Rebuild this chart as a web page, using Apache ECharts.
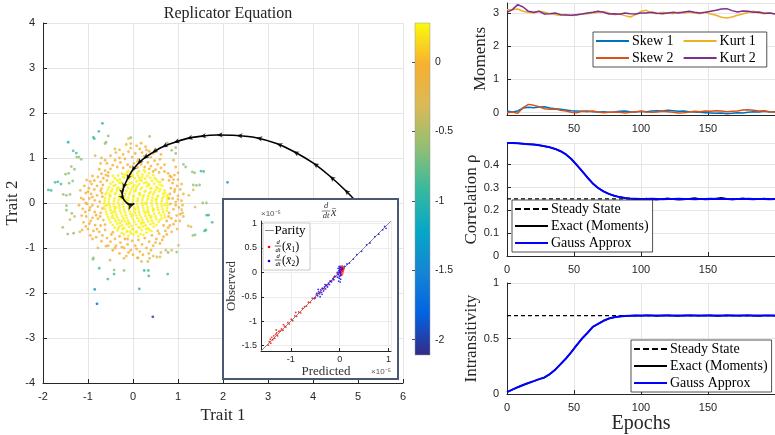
<!DOCTYPE html>
<html>
<head>
<meta charset="utf-8">
<script src="https://cdn.jsdelivr.net/npm/echarts@6/dist/echarts.min.js"></script>
<style>html,body{margin:0;padding:0;background:#fff}#c{width:775px;height:435px}</style>
</head>
<body>
<div id="c"></div>
<script>
// ---------- styling constants ----------
const SERIF = "'Liberation Serif', 'DejaVu Serif', serif";
const SANS = "'Liberation Sans', Arial, sans-serif";
const INK = '#262626';
const GRIDC = '#e5e5e5';

// Parula colormap (low -> high)
const parula = ['#352a87', '#0363e1', '#1485d4', '#06a7c6', '#38b99e', '#92bf73', '#d9ba56', '#f8b030', '#f9fb0e'];
const fitnessMin = -2.11;
const fitnessMax = 0.28;

// ---------- population in trait space, grouped by fitness ----------
const corePts = [
[-0.1,0.71],[0.02,0.74],[0.13,0.7],[0.24,0.73],
[-0.24,0.65],[-0.13,0.68],[-0.03,0.64],[0.09,0.67],[0.21,0.63],[0.36,0.66],
[-0.33,0.61],[-0.22,0.58],[-0.12,0.62],[-0.01,0.59],[0.11,0.61],[0.2,0.57],[0.32,0.6],[0.45,0.62],
[-0.4,0.55],[-0.29,0.52],[-0.19,0.56],[-0.08,0.53],[0.04,0.55],[0.15,0.51],[0.27,0.54],[0.38,0.56],[0.52,0.52],
[-0.45,0.47],[-0.35,0.5],[-0.24,0.46],[-0.13,0.49],[-0.03,0.45],[0.08,0.48],[0.19,0.5],[0.3,0.46],[0.42,0.49],[0.55,0.47],
[-0.5,0.43],[-0.39,0.4],[-0.28,0.44],[-0.18,0.41],[-0.07,0.43],[0.03,0.39],[0.14,0.42],[0.25,0.44],[0.36,0.4],[0.47,0.43],[0.6,0.41],
[-0.53,0.35],[-0.43,0.38],[-0.32,0.34],[-0.22,0.37],[-0.11,0.33],[-0.01,0.36],[0.1,0.38],[0.2,0.34],[0.31,0.37],[0.41,0.33],[0.52,0.36],[0.65,0.38],
[-0.56,0.29],[-0.46,0.31],[-0.36,0.28],[-0.25,0.32],[-0.15,0.27],[-0.04,0.3],[0.06,0.28],[0.17,0.31],[0.28,0.27],[0.39,0.32],[0.5,0.29],[0.61,0.31],[0.7,0.28],
[-0.59,0.23],[-0.48,0.26],[-0.38,0.22],[-0.27,0.25],[-0.17,0.21],[-0.06,0.24],[0.04,0.26],[0.15,0.22],[0.26,0.25],[0.36,0.21],[0.47,0.24],[0.58,0.26],[0.71,0.22],
[-0.61,0.19],[-0.5,0.16],[-0.4,0.2],[-0.29,0.17],[-0.19,0.15],[-0.08,0.19],[0.02,0.16],[0.13,0.2],[0.24,0.17],[0.34,0.15],[0.45,0.19],[0.56,0.16],[0.67,0.2],[0.76,0.17],
[-0.62,0.11],[-0.52,0.14],[-0.41,0.1],[-0.31,0.13],[-0.2,0.09],[-0.1,0.12],[0.01,0.14],[0.11,0.1],[0.22,0.13],[0.33,0.09],[0.43,0.12],[0.54,0.14],[0.65,0.1],[0.77,0.13],
[-0.63,0.05],[-0.53,0.08],[-0.42,0.04],[-0.32,0.07],[-0.21,0.03],[-0.11,0.06],[0.0,0.08],[0.1,0.04],[0.21,0.07],[0.31,0.03],[0.42,0.06],[0.53,0.08],[0.64,0.04],[0.76,0.07],
[-0.64,-0.01],[-0.54,0.02],[-0.43,-0.02],[-0.33,0.01],[-0.22,-0.03],[-0.12,0.0],[-0.01,0.02],[0.09,-0.02],[0.2,0.01],[0.3,-0.03],[0.41,0.0],[0.52,0.02],[0.63,-0.02],[0.75,0.01],
[-0.63,-0.07],[-0.52,-0.04],[-0.42,-0.08],[-0.31,-0.05],[-0.21,-0.09],[-0.1,-0.06],[0.0,-0.04],[0.11,-0.08],[0.21,-0.05],[0.32,-0.09],[0.42,-0.06],[0.53,-0.04],[0.64,-0.08],[0.77,-0.05],
[-0.62,-0.13],[-0.51,-0.1],[-0.41,-0.14],[-0.3,-0.11],[-0.2,-0.15],[-0.09,-0.12],[0.02,-0.1],[0.12,-0.14],[0.23,-0.11],[0.33,-0.15],[0.44,-0.12],[0.55,-0.1],[0.66,-0.14],[0.76,-0.11],
[-0.6,-0.19],[-0.5,-0.16],[-0.39,-0.2],[-0.29,-0.17],[-0.18,-0.21],[-0.08,-0.18],[0.03,-0.16],[0.13,-0.2],[0.24,-0.17],[0.35,-0.21],[0.45,-0.18],[0.56,-0.16],[0.67,-0.2],[0.75,-0.17],
[-0.58,-0.25],[-0.48,-0.22],[-0.37,-0.26],[-0.27,-0.23],[-0.16,-0.27],[-0.06,-0.24],[0.05,-0.22],[0.15,-0.26],[0.26,-0.23],[0.36,-0.27],[0.47,-0.24],[0.58,-0.22],[0.7,-0.26],
[-0.56,-0.31],[-0.45,-0.28],[-0.35,-0.32],[-0.24,-0.29],[-0.14,-0.33],[-0.03,-0.3],[0.07,-0.28],[0.18,-0.32],[0.28,-0.29],[0.39,-0.33],[0.5,-0.3],[0.62,-0.28],[0.71,-0.32],
[-0.53,-0.37],[-0.42,-0.34],[-0.32,-0.38],[-0.21,-0.35],[-0.11,-0.39],[0.0,-0.36],[0.1,-0.34],[0.21,-0.38],[0.31,-0.35],[0.42,-0.39],[0.52,-0.36],[0.64,-0.34],
[-0.5,-0.43],[-0.39,-0.4],[-0.29,-0.44],[-0.18,-0.41],[-0.08,-0.45],[0.03,-0.42],[0.13,-0.4],[0.24,-0.44],[0.34,-0.41],[0.45,-0.45],[0.57,-0.42],
[-0.45,-0.49],[-0.35,-0.46],[-0.24,-0.5],[-0.14,-0.47],[-0.03,-0.51],[0.07,-0.48],[0.18,-0.46],[0.28,-0.5],[0.39,-0.47],[0.52,-0.49],
[-0.41,-0.55],[-0.3,-0.52],[-0.2,-0.56],[-0.09,-0.53],[0.01,-0.57],[0.12,-0.54],[0.22,-0.52],[0.33,-0.56],[0.46,-0.53],
[-0.34,-0.61],[-0.23,-0.58],[-0.13,-0.62],[-0.02,-0.59],[0.08,-0.63],[0.19,-0.6],[0.29,-0.58],[0.41,-0.62],
[-0.25,-0.67],[-0.14,-0.64],[-0.04,-0.68],[0.07,-0.65],[0.17,-0.69],[0.3,-0.66],
[-0.1,-0.73],[0.01,-0.7],[0.12,-0.74],[0.23,-0.71],
[-0.45,0.6],[-0.3,0.45],[-0.05,0.62],[0.27,0.69],[0.48,0.55],[0.6,0.47],[-0.52,0.2],[-0.35,0.32],[-0.12,0.4],[0.07,0.33],
[0.34,0.42],[0.55,0.33],[0.68,0.14],[-0.58,-0.05],[-0.38,-0.1],[-0.16,0.07],[0.05,-0.13],[0.26,-0.01],[0.46,-0.14],[0.7,-0.05],
[-0.47,-0.32],[-0.25,-0.4],[-0.02,-0.26],[0.2,-0.43],[0.41,-0.3],[0.6,-0.38],[-0.33,-0.56],[-0.07,-0.64],[0.15,-0.55],[0.36,-0.6],
[-0.18,0.63],[0.14,0.56],[0.39,0.24],[-0.26,0.1],[0.16,0.18],[-0.44,-0.2],[0.3,-0.2],[-0.1,-0.45],[0.5,0.08],[-0.2,-0.7]
];

const ringPts = [
[-0.15,1.3],[-0.05,1.22],[0.08,1.27],[0.18,1.33],[0.28,1.25],[0.36,1.15],[0.2,1.12],[0.05,1.1],[-0.1,1.14],[-0.22,1.08],
[-0.3,1.0],[-0.18,0.98],[-0.02,1.02],[0.12,0.97],[0.25,1.04],[0.4,1.02],[0.48,0.94],[0.33,0.9],[0.18,0.86],[0.02,0.88],
[-0.12,0.85],[-0.28,0.9],[-0.4,0.95],[-0.45,0.84],[-0.35,0.8],[-0.22,0.78],[-0.06,0.8],[0.1,0.79],[0.26,0.8],[0.4,0.82],
[0.55,0.86],[0.62,0.78],[0.5,0.74],[0.36,0.76],[-0.5,0.76],[-0.58,0.88],[0.6,0.97],[0.7,0.7],[0.52,1.18],[0.62,1.08],
[-0.62,0.72],[-0.7,0.65],[-0.55,0.68],[-0.78,0.58],[-0.66,0.55],[-0.86,0.5],[-1.03,0.51],[-0.72,0.47],[-0.92,0.42],[-0.8,0.38],
[-0.67,0.4],[-0.98,0.33],[-0.86,0.3],[-0.72,0.27],[-1.05,0.22],[-0.93,0.2],[-0.8,0.17],[-0.68,0.14],[-1.1,0.08],[-0.97,0.1],
[-0.85,0.06],[-0.74,0.03],[-1.02,-0.02],[-0.9,-0.05],[-0.78,-0.08],[-0.68,-0.12],[-1.12,-0.13],[-0.97,-0.16],[-0.85,-0.2],[-0.72,-0.22],
[-1.14,-0.28],[-1.04,-0.3],[-0.9,-0.33],[-0.78,-0.35],[-0.66,-0.38],[-1.1,-0.43],[-0.97,-0.46],[-0.84,-0.49],[-0.72,-0.5],[-1.13,-0.6],
[-1.0,-0.58],[-0.88,-0.62],[-0.75,-0.64],[-0.62,-0.6],[-0.95,-0.72],[-0.82,-0.76],[-0.68,-0.72],[-1.15,0.11],[-1.2,-0.05],[-0.6,0.62],
[-0.58,-0.78],[-0.48,-0.7],[-0.5,-0.86],[-0.4,-0.8],[-0.38,-0.95],[-0.3,-0.74],[-0.28,-0.88],[-0.2,-1.0],[-0.18,-0.8],[-0.12,-0.92],
[-0.05,-1.05],[-0.02,-0.84],[0.05,-0.95],[0.12,-0.82],[0.15,-1.08],[0.2,-0.92],[0.26,-0.78],[0.3,-1.0],[0.36,-0.86],[0.42,-0.72],
[0.45,-0.95],[0.52,-0.8],[0.58,-0.68],[0.6,-0.9],[0.68,-0.75],[-0.6,-0.96],[-0.45,-1.05],[-0.3,-1.12],[0.0,-1.15],[0.35,-1.12],
[0.1,-1.22],[-0.15,-1.18],
[0.78,0.66],[0.85,0.58],[0.92,0.62],[0.8,0.5],[1.0,0.52],[0.88,0.44],[0.98,0.38],[0.84,0.33],[1.05,0.3],[0.92,0.25],
[0.82,0.2],[1.0,0.16],[0.88,0.1],[1.08,0.05],[0.95,0.02],[0.83,-0.02],[1.02,-0.1],[0.9,-0.14],[0.8,-0.22],[1.1,-0.22],
[0.97,-0.28],[0.85,-0.34],[0.75,-0.4],[1.04,-0.4],[0.9,-0.47],[0.78,-0.55],[0.98,-0.58],[0.86,-0.64],[0.72,-0.62],[1.12,0.2],
[1.1,-0.05],[1.0,0.67],[0.95,0.8],
[-0.75,0.75],[-0.9,0.6],[-0.95,0.48],[-1.08,0.38],[-1.0,0.25],[-0.9,0.13],[-1.05,0.0],[-0.95,-0.1],[-1.06,-0.2],[-0.82,-0.27],
[-0.94,-0.4],[-1.05,-0.52],[-0.8,-0.58],[-0.9,-0.8],[-0.7,-0.85],[-0.55,-0.95],[-0.4,-1.0],[-0.25,-0.98],[-0.1,-1.1],[0.08,-1.02],
[0.22,-1.15],[0.4,-1.05],[0.5,-0.88],[0.65,-0.82],[0.75,-0.7],[0.82,-0.5],[0.95,-0.4],[1.05,-0.25],[0.95,-0.05],[1.0,0.08],
[0.93,0.3],[1.08,0.42],[0.9,0.52],[0.82,0.6],[0.7,0.85],[0.45,1.1],[0.3,1.18],[-0.05,1.32],[-0.3,1.18],[-0.5,1.05],
[-0.62,0.95],[-0.72,0.88],[-0.38,1.12],[0.15,1.2],[0.58,0.68],[-0.7,0.32],[-0.73,-0.3],[-0.69,0.22],[0.8,0.1],[0.79,-0.3],
[-0.62,-0.48],[-0.58,0.5],[0.66,0.52],[0.68,-0.5],[0.55,-0.62],[-0.45,-0.65],[-0.55,0.6],[0.45,0.7],[-0.12,-0.8],[0.1,0.92]
];

const olivePts = [
[-1.18,-0.64],[-1.4,-0.37],[-1.3,-0.3],[-0.78,-1.0],[-0.51,-1.27],[-0.2,-1.23],[0.11,-1.22],[0.19,-1.3],[0.33,-1.3],[0.37,-1.23],
[0.53,-1.2],[0.6,-1.2],[0.62,-1.1],[0.73,-1.05],[0.86,-1.05],[1.01,-0.94],[1.29,-0.53],[1.23,-0.51],[1.08,-0.15],[1.12,-0.3],
[1.38,-0.09],[1.24,0.17],[1.34,0.29],[-0.84,1.05],[-0.1,1.43],[0.45,-1.18],[-1.17,0.28],[-0.4,1.2],[-0.7,1.0],[0.9,0.95]
];

const greenPts = [
[-0.55,1.49],[-0.6,1.35],[-1.25,1.02],[-1.2,1.02],[-0.05,1.45],[0.37,1.48],[0.95,1.23],[0.95,1.1],[0.76,1.33],[0.86,1.17],
[1.12,0.86],[1.17,0.8],[1.37,0.67],[1.32,0.69],[1.41,0.39],[1.34,0.4],[1.48,0.4],[1.55,0.0],[1.63,0.0],[-1.5,0.64],
[-1.37,0.81],[-1.43,0.66],[-1.3,0.75],[-1.34,0.49],[-1.42,0.44],[-1.48,0.17],[-1.4,0.19],[-1.55,0.19],[-1.48,-0.06],[-1.48,-0.16],
[-1.36,-0.23],[-1.56,-0.54],[-1.45,-0.69],[-1.32,-0.67],[-0.89,-1.25],[-0.88,-1.22],[-0.42,-1.49],[-0.2,-1.5],[0.78,-1.1],[0.97,-1.09],
[1.33,-0.72],[1.38,-0.71],[-1.15,0.97],[-0.62,1.32]
];

const tealPts = [
[-0.88,1.46],[-0.86,1.43],[-0.76,1.59],[-1.26,1.11],[-1.33,1.16],[-1.73,0.46],[-1.67,0.47],[-1.6,0.42],[-1.88,0.29],[-1.82,0.28],
[1.51,0.71],[1.57,0.7],[1.64,-0.27],[1.68,-0.27],[1.59,-0.62],[1.62,-0.6],[1.76,-0.43],[-0.75,-1.45],[-0.56,-1.69],[-0.42,-1.58],
[0.25,-1.5],[0.34,-1.5],[0.35,-1.62],[0.77,-1.58]
];

const cyanPts = [[-0.68,1.77],[-1.44,1.35],[0.14,-1.91]];

// isolated low-fitness individuals: [trait 1, trait 2, fitness]
const farPts = [[2.1,0.46,-1.35],[-0.85,-1.92,-1.35],[-0.8,-2.24,-1.78],[0.44,-2.53,-2.08]];

const bandFitness = { core: 0.24, ring: -0.02, olive: -0.3, green: -0.62, teal: -0.9, cyan: -1.08 };

// mean-trait trajectory (start -> end)
const trajectory = [
[5.3,-0.5],[5.1,-0.2],[4.93,0.06],[4.7,0.3],[4.37,0.6],[4.0,0.89],[3.56,1.15],[3.19,1.32],[2.74,1.45],[2.3,1.5],
[1.86,1.51],[1.49,1.48],[1.19,1.43],[0.9,1.34],[0.64,1.24],[0.42,1.11],[0.23,0.98],[0.1,0.86],[-0.03,0.7],[-0.14,0.5],
[-0.22,0.31],[-0.24,0.18],[-0.2,0.07],[-0.12,-0.01],[-0.04,-0.04],[0.03,-0.01]
];
const arrowIdx = [3,4,5,6,7,8,9,10,11,12,13,14,15,16,17,18,19,20,21,22];

// ---------- predicted vs observed mean-trait velocity (x 1e-5) ----------
const dMean1 = [
[-1.46,-1.49],[-1.44,-1.42],[-1.42,-1.37],[-1.41,-1.45],[-1.39,-1.33],[-1.37,-1.38],[-1.35,-1.3],[-1.33,-1.35],[-1.31,-1.27],[-1.29,-1.24],
[-1.27,-1.3],[-1.25,-1.21],[-1.22,-1.2],[-1.19,-1.16],[-1.16,-1.19],[-1.13,-1.1],[-1.1,-1.12],[-1.06,-1.03],[-1.03,-1.06],[-0.99,-0.96],
[-0.96,-0.99],[-0.92,-0.89],[-0.88,-0.9],[-0.84,-0.81],[-0.8,-0.83],[-0.76,-0.74],[-0.72,-0.7],[-0.68,-0.69],[-0.64,-0.61],[-0.6,-0.62],
[-0.56,-0.53],[-0.52,-0.54],[-0.48,-0.46],[-0.44,-0.43],[-0.4,-0.41],[-0.36,-0.33],[-0.32,-0.34],[-0.28,-0.26],[-0.24,-0.25],[-0.2,-0.18],
[-0.16,-0.17],[-0.12,-0.1],[-0.08,-0.09],[-0.05,-0.03],[-1.3,-1.18],[-1.15,-1.07],[-0.9,-0.82],
[0.01,0.02],[0.02,0.06],[0.03,0.1],[0.04,0.0],[0.05,0.08],[0.06,0.03],[0.07,0.11],[0.03,-0.04],[0.05,0.13],[0.02,-0.01],
[0.08,0.05],[0.04,0.07],[0.06,-0.03],[0.03,0.04],[0.07,0.01],[0.05,0.09],[0.02,0.12],[0.06,0.06],[0.04,-0.06],[0.09,0.08],
[0.01,0.05],[0.05,0.02]
];
const dMean2 = [
[-0.02,-0.18],[-0.01,-0.12],[0.0,-0.08],[-0.03,-0.05],[0.01,0.0],[-0.02,0.03],[0.0,0.06],[0.02,0.1],[-0.01,0.12],[0.01,-0.03],
[-0.04,-0.1],[0.02,-0.14],[0.0,0.02],[-0.03,0.08],[0.03,0.05],[0.01,-0.2],[-0.02,-0.01],[0.0,0.09],[-0.05,0.0],[0.02,-0.06],
[-0.45,-0.48],[-0.43,-0.4],[-0.41,-0.44],[-0.39,-0.36],[-0.37,-0.41],[-0.35,-0.33],[-0.33,-0.38],[-0.31,-0.3],[-0.29,-0.34],[-0.27,-0.27],
[-0.25,-0.3],[-0.23,-0.22],[-0.21,-0.25],[-0.19,-0.18],[-0.17,-0.2],[-0.14,-0.13],[-0.12,-0.15],[-0.1,-0.08],[-0.4,-0.5],[-0.47,-0.43],
[-0.5,-0.52],[-0.44,-0.35],[-0.36,-0.45],[-0.3,-0.25],
[0.15,0.17],[0.2,0.19],[0.28,0.27],[0.35,0.36],[0.45,0.43],[0.55,0.56],[0.62,0.6],[0.72,0.73],[0.8,0.78],[0.88,0.87],
[0.92,0.94],[0.95,0.9],[0.1,0.12],[0.06,0.08]
];
const parityEnds = [-1.61, 1.05];

// ---------- time series over epochs ----------
const epochs = [0,4,8,12,16,20,24,28,32,36,40,44,48,52,56,60,64,68,72,76,80,84,88,92,96,100,104,108,112,116,120,124,128,132,136,140,144,148,152,156,160,164,168,172,176,180,184,188,192,196,200];

const skew1 = [0.05,0.02,0.05,0.14,0.16,0.15,0.17,0.18,0.14,0.12,0.1,0.08,0.06,0.05,0.04,0.05,0.03,0.02,0.03,0.01,0.02,0.04,0.05,0.03,0.02,0.04,0.03,0.05,0.06,0.05,0.07,0.06,0.04,0.05,0.03,0.02,0.01,0.0,-0.01,-0.02,-0.01,-0.03,-0.02,0.0,-0.01,0.01,0.03,0.02,0.04,0.02,0.03];
const skew2 = [0.0,0.02,-0.02,0.15,0.25,0.22,0.18,0.12,0.1,0.11,0.07,0.05,0.01,0.0,0.04,0.03,0.05,0.02,0.0,0.01,0.02,0.01,-0.01,0.01,0.03,0.04,0.02,0.01,0.02,0.04,0.03,0.01,-0.01,0.0,0.02,0.04,0.03,0.05,0.04,0.06,0.05,0.03,0.04,0.05,0.08,0.09,0.07,0.05,0.06,0.03,0.02];
const kurt1 = [3.1,3.1,3.12,3.05,3.02,3.0,3.05,3.02,2.98,2.95,2.93,2.95,2.92,2.94,2.97,2.98,3.0,3.02,3.04,3.0,2.95,2.97,2.92,2.88,2.95,3.05,3.08,3.0,2.98,3.02,3.0,2.98,3.02,3.0,3.03,3.0,2.98,3.02,2.97,2.93,2.87,2.85,2.88,2.93,2.97,3.02,3.05,3.0,2.98,3.0,2.98];
const kurt2 = [3.02,3.1,3.25,3.18,3.05,3.02,3.05,2.97,2.98,3.0,2.95,2.94,2.93,2.95,2.97,3.0,3.02,3.05,3.02,2.97,2.98,2.96,3.0,2.98,2.97,3.0,3.0,3.02,2.99,2.98,3.0,3.02,3.0,3.03,3.05,3.02,3.0,3.02,3.05,3.08,3.12,3.13,3.07,3.03,3.06,3.05,3.02,3.03,2.99,3.0,2.97];

const corrSteady = 0.25;
const corrExact = [0.496,0.495,0.494,0.492,0.49,0.488,0.485,0.481,0.476,0.469,0.459,0.445,0.425,0.399,0.372,0.344,0.318,0.298,0.283,0.272,0.264,0.258,0.254,0.251,0.249,0.247,0.252,0.248,0.246,0.25,0.253,0.249,0.246,0.248,0.251,0.254,0.25,0.247,0.249,0.252,0.255,0.251,0.248,0.25,0.253,0.249,0.247,0.25,0.252,0.249,0.25];
const corrGauss = [0.496,0.495,0.494,0.492,0.49,0.488,0.485,0.481,0.476,0.469,0.459,0.445,0.425,0.399,0.372,0.344,0.318,0.298,0.283,0.272,0.264,0.258,0.254,0.252,0.251,0.25,0.25,0.251,0.25,0.249,0.25,0.25,0.251,0.25,0.25,0.249,0.25,0.25,0.251,0.25,0.25,0.25,0.249,0.25,0.25,0.251,0.25,0.25,0.25,0.249,0.25];

const intrSteady = 0.707;
const intrExact = [0.018,0.04,0.062,0.082,0.1,0.117,0.135,0.15,0.18,0.22,0.27,0.32,0.378,0.44,0.5,0.55,0.605,0.632,0.66,0.68,0.692,0.699,0.704,0.706,0.707,0.705,0.709,0.707,0.704,0.708,0.71,0.706,0.703,0.707,0.71,0.708,0.705,0.707,0.709,0.704,0.706,0.71,0.708,0.705,0.707,0.709,0.706,0.704,0.708,0.707,0.705];
const intrGauss = [0.018,0.04,0.062,0.082,0.1,0.117,0.135,0.15,0.18,0.22,0.27,0.32,0.378,0.44,0.5,0.55,0.605,0.632,0.66,0.68,0.692,0.699,0.704,0.706,0.707,0.707,0.707,0.707,0.707,0.707,0.707,0.707,0.707,0.707,0.707,0.707,0.707,0.707,0.707,0.707,0.707,0.707,0.707,0.707,0.707,0.707,0.707,0.707,0.707,0.707,0.707];

// ---------- assemble series data ----------
const cloud = [];
[[corePts, bandFitness.core], [ringPts, bandFitness.ring], [olivePts, bandFitness.olive],
 [greenPts, bandFitness.green], [tealPts, bandFitness.teal], [cyanPts, bandFitness.cyan]]
  .forEach(([pts, f]) => pts.forEach(p => cloud.push([p[0], p[1], f])));
farPts.forEach(p => cloud.push(p));

function heading(i) {
  const a = trajectory[Math.max(i - 1, 0)], b = trajectory[Math.min(i + 1, trajectory.length - 1)];
  return Math.atan2(b[1] - a[1], b[0] - a[0]) * 180 / Math.PI - 90;
}
const arrowData = arrowIdx.map(i => ({ value: trajectory[i], symbolRotate: heading(i) }));
const last = trajectory.length - 1;
arrowData.push({ value: trajectory[last], symbolRotate: heading(last), symbolSize: [6, 8] });

const pairs = ys => epochs.map((e, i) => [e, ys[i]]);
const flat = v => [[epochs[0], v], [epochs[epochs.length - 1], v]];

const cbStops = parula.map((c, i) => ({ offset: 1 - i / (parula.length - 1), color: c })).reverse();

// ---------- axis helpers ----------
const tickLabel = { color: INK, fontFamily: SANS, fontSize: 11 };
function valAxis(extra) {
  return Object.assign({
    type: 'value',
    axisLine: { show: true, onZero: false, lineStyle: { color: INK, width: 1 } },
    axisTick: { show: true, inside: true, length: 4, lineStyle: { color: INK } },
    splitLine: { show: true, lineStyle: { color: GRIDC, width: 1 } },
    axisLabel: Object.assign({}, tickLabel),
    nameLocation: 'middle',
    nameTextStyle: { fontFamily: SERIF, fontSize: 17, color: INK }
  }, extra);
}

// fraction d/dt drawn with text pieces
function frac(cx, cy, size, color) {
  const f = `italic ${size}px ${SERIF}`;
  return [
    { type: 'text', x: cx, y: cy - 0.5, z: 21, style: { text: 'd', font: f, fill: color, align: 'center', verticalAlign: 'bottom', textAlign: 'center', textVerticalAlign: 'bottom' } },
    { type: 'line', z: 21, shape: { x1: cx - size * 0.5, y1: cy, x2: cx + size * 0.5, y2: cy }, style: { stroke: color, lineWidth: 0.6 } },
    { type: 'text', x: cx, y: cy + 0.5, z: 21, style: { text: 'dt', font: f, fill: color, align: 'center', verticalAlign: 'top', textAlign: 'center', textVerticalAlign: 'top' } }
  ];
}
function txt(x, y, text, font, align, extra) {
  return { type: 'text', x: x, y: y, z: 21, style: Object.assign({ text: text, font: font, fill: '#000', align: align || 'left', verticalAlign: 'middle', textAlign: align || 'left', textVerticalAlign: 'middle' }, extra || {}) };
}
const meanRich = {
  i: { fontFamily: SERIF, fontStyle: 'italic', fontSize: 12, color: '#000' },
  s: { fontFamily: SERIF, fontSize: 8, color: '#000', verticalAlign: 'bottom', padding: [6, 0, 0, 0] },
  p: { fontFamily: SERIF, fontSize: 12, color: '#000' }
};

const graphics = [
  // inset frame
  { type: 'rect', z: 10, shape: { x: 223, y: 199, width: 175, height: 180 }, style: { fill: '#fff', stroke: '#4b5872', lineWidth: 2 } },
  // inset title
  ...frac(326, 211, 8.5, '#333'),
  txt(331, 212.5, 'x\u0304', `italic 12px ${SERIF}`, 'left', { fill: '#333' }),
  // exponent markers
  txt(261, 214, '\u00d710\u207b\u2075', `8px ${SANS}`, 'left', { fill: '#555' }),
  txt(391, 372, '\u00d710\u207b\u2075', `8px ${SANS}`, 'right', { fill: '#555' }),
  // inset legend
  { type: 'rect', z: 20, shape: { x: 263, y: 223, width: 47, height: 47 }, style: { fill: '#fff', stroke: '#c8c8c8', lineWidth: 1 } },
  { type: 'line', z: 21, shape: { x1: 265, y1: 230.5, x2: 274, y2: 230.5 }, style: { stroke: '#888', lineWidth: 1 } },
  txt(274.5, 231, 'Parity', `13px ${SERIF}`),
  { type: 'circle', z: 21, shape: { cx: 269, cy: 247, r: 1.3 }, style: { fill: '#ff0000' } },
  ...frac(278, 246, 6.5, '#000'),
  { type: 'text', x: 282, y: 247, z: 21, style: { text: '{p|(}{i|x\u0304}{s|1}{p|)}', rich: meanRich, align: 'left', verticalAlign: 'middle', textAlign: 'left', textVerticalAlign: 'middle' } },
  { type: 'circle', z: 21, shape: { cx: 269, cy: 261, r: 1.3 }, style: { fill: '#0000ff' } },
  ...frac(278, 260, 6.5, '#000'),
  { type: 'text', x: 282, y: 261, z: 21, style: { text: '{p|(}{i|x\u0304}{s|2}{p|)}', rich: meanRich, align: 'left', verticalAlign: 'middle', textAlign: 'left', textVerticalAlign: 'middle' } }
];

// legend line icons (solid and dashed strokes)
const SOLID = 'path://M0,0H33V2H0Z';
const DASHED = 'path://M0,0H6V2H0Z M9,0H15V2H9Z M18,0H24V2H18Z M27,0H33V2H27Z';
const legendBase = {
  orient: 'vertical',
  backgroundColor: '#fff',
  borderColor: INK,
  borderWidth: 0.8,
  borderRadius: 0,
  itemWidth: 33,
  itemHeight: 12,
  itemGap: 3,
  symbolKeepAspect: true,
  padding: [2, 4, 2, 3],
  textStyle: { fontFamily: SERIF, fontSize: 14, color: '#000', padding: [0, 0, 0, -2] },
  selectedMode: false,
  z: 6
};
const fitLegend = [
  { name: 'Steady State', icon: DASHED },
  { name: 'Exact (Moments)', icon: SOLID },
  { name: 'Gauss Approx', icon: SOLID }
];

const option = {
  animation: false,
  backgroundColor: '#fff',
  title: {
    text: 'Replicator Equation', left: 223, top: 1, textAlign: 'center',
    textStyle: { fontFamily: SERIF, fontSize: 16, fontWeight: 'normal', color: '#222' }
  },
  grid: [
    { left: 43, top: 23, width: 360, height: 360 },
    { left: 415, top: 23, width: 15, height: 332, show: true, borderColor: '#9a9a9a', borderWidth: 0.5,
      backgroundColor: new echarts.graphic.LinearGradient(0, 0, 0, 1, cbStops) },
    { left: 261, top: 221, width: 130, height: 130 },
    { left: 507, top: 3, width: 271, height: 112 },
    { left: 507, top: 143, width: 271, height: 113 },
    { left: 507, top: 283, width: 271, height: 112 }
  ],
  xAxis: [
    valAxis({ gridIndex: 0, min: -2, max: 6, interval: 1, name: 'Trait 1', nameGap: 16 }),
    { type: 'value', gridIndex: 1, min: 0, max: 1, show: false },
    valAxis({ gridIndex: 2, min: parityEnds[0], max: parityEnds[1], splitNumber: 2, z: 12,
      axisLabel: Object.assign({}, tickLabel, { fontSize: 9, margin: 4, showMinLabel: false, showMaxLabel: false }),
      axisTick: { show: true, inside: true, length: 3, lineStyle: { color: INK } },
      splitLine: { show: true, lineStyle: { color: '#ececec' } },
      name: 'Predicted', nameGap: 11, nameTextStyle: { fontFamily: SERIF, fontSize: 13, color: '#333' } }),
    valAxis({ gridIndex: 3, min: 0, max: 200, interval: 50,
      axisLabel: Object.assign({}, tickLabel, { showMaxLabel: false, formatter: v => (v === 0 ? '' : String(v)) }) }),
    valAxis({ gridIndex: 4, min: 0, max: 200, interval: 50, axisLabel: Object.assign({}, tickLabel, { showMaxLabel: false }) }),
    valAxis({ gridIndex: 5, min: 0, max: 200, interval: 50, axisLabel: Object.assign({}, tickLabel, { showMaxLabel: false }),
      name: 'Epochs', nameGap: 15, nameTextStyle: { fontFamily: SERIF, fontSize: 20, color: INK } })
  ],
  yAxis: [
    valAxis({ gridIndex: 0, min: -4, max: 4, interval: 1, name: 'Trait 2', nameGap: 17 }),
    { type: 'value', gridIndex: 1, position: 'right', min: fitnessMin, max: fitnessMax, splitNumber: 5,
      axisLine: { show: false }, splitLine: { show: false },
      axisTick: { show: true, inside: true, length: 3, lineStyle: { color: '#555' } },
      axisLabel: Object.assign({}, tickLabel, { fontSize: 10.5, margin: 5, showMinLabel: false, showMaxLabel: false }) },
    valAxis({ gridIndex: 2, min: parityEnds[0], max: parityEnds[1], splitNumber: 5, z: 12,
      axisLabel: Object.assign({}, tickLabel, { fontSize: 9, margin: 4, showMinLabel: false, showMaxLabel: false }),
      axisTick: { show: true, inside: true, length: 3, lineStyle: { color: INK } },
      splitLine: { show: true, lineStyle: { color: '#ececec' } },
      name: 'Observed', nameGap: 20, nameTextStyle: { fontFamily: SERIF, fontSize: 13, color: '#333' } }),
    valAxis({ gridIndex: 3, min: -0.07, max: 3.3, splitNumber: 4, name: 'Moments', nameGap: 16,
      axisLabel: Object.assign({}, tickLabel, { showMinLabel: false, showMaxLabel: false }) }),
    valAxis({ gridIndex: 4, min: 0, max: 0.495, splitNumber: 5, name: 'Correlation \u03c1', nameGap: 16,
      axisLabel: Object.assign({}, tickLabel, { showMaxLabel: false }) }),
    valAxis({ gridIndex: 5, min: 0, max: 1, interval: 0.5, name: 'Intransitivity', nameGap: 16 })
  ],
  visualMap: {
    type: 'continuous', show: false, seriesIndex: 0, dimension: 2,
    min: fitnessMin, max: fitnessMax, inRange: { color: parula }
  },
  legend: [
    Object.assign({}, legendBase, {
      data: ['Skew 1', 'Skew 2', 'Kurt 1', 'Kurt 2'].map(n => ({ name: n, icon: SOLID })),
      formatter: n => n + '\u2002',
      left: 593, top: 32, height: 34, itemGap: 3 }),
    Object.assign({}, legendBase, { data: fitLegend, left: 512, top: 200 }),
    Object.assign({}, legendBase, { data: fitLegend, left: 631, top: 340 })
  ],
  graphic: { elements: graphics },
  series: [
    { type: 'scatter', name: 'population', xAxisIndex: 0, yAxisIndex: 0, data: cloud, symbolSize: 2.8, z: 2 },
    { type: 'line', name: 'mean trait', xAxisIndex: 0, yAxisIndex: 0, data: trajectory, symbol: 'none', smooth: 0.3,
      lineStyle: { color: '#000', width: 1.6 }, z: 3 },
    { type: 'scatter', name: 'direction', xAxisIndex: 0, yAxisIndex: 0, data: arrowData, symbol: 'arrow', symbolSize: [4, 6],
      itemStyle: { color: '#000' }, z: 3 },
    { type: 'line', name: 'Parity', xAxisIndex: 2, yAxisIndex: 2, data: [[parityEnds[0], parityEnds[0]], [parityEnds[1], parityEnds[1]]],
      symbol: 'none', lineStyle: { color: '#8c8c8c', width: 1 }, z: 15 },
    { type: 'scatter', name: 'dmean1', xAxisIndex: 2, yAxisIndex: 2, data: dMean1, symbolSize: 1.8, itemStyle: { color: '#ff0000' }, z: 16 },
    { type: 'scatter', name: 'dmean2', xAxisIndex: 2, yAxisIndex: 2, data: dMean2, symbolSize: 1.8, itemStyle: { color: '#0000ff' }, z: 16 },
    { type: 'line', name: 'Skew 1', xAxisIndex: 3, yAxisIndex: 3, data: pairs(skew1), symbol: 'none', lineStyle: { color: '#0072bd', width: 1.5 }, itemStyle: { color: '#0072bd' } },
    { type: 'line', name: 'Skew 2', xAxisIndex: 3, yAxisIndex: 3, data: pairs(skew2), symbol: 'none', lineStyle: { color: '#d95319', width: 1.5 }, itemStyle: { color: '#d95319' } },
    { type: 'line', name: 'Kurt 1', xAxisIndex: 3, yAxisIndex: 3, data: pairs(kurt1), symbol: 'none', lineStyle: { color: '#edb120', width: 1.5 }, itemStyle: { color: '#edb120' } },
    { type: 'line', name: 'Kurt 2', xAxisIndex: 3, yAxisIndex: 3, data: pairs(kurt2), symbol: 'none', lineStyle: { color: '#7e2f8e', width: 1.5 }, itemStyle: { color: '#7e2f8e' } },
    { type: 'line', name: 'Steady State', xAxisIndex: 4, yAxisIndex: 4, data: flat(corrSteady), symbol: 'none', lineStyle: { color: '#000', width: 1.2, type: [4, 3] }, itemStyle: { color: '#000' } },
    { type: 'line', name: 'Exact (Moments)', xAxisIndex: 4, yAxisIndex: 4, data: pairs(corrExact), symbol: 'none', lineStyle: { color: '#000', width: 1.5 }, itemStyle: { color: '#000' } },
    { type: 'line', name: 'Gauss Approx', xAxisIndex: 4, yAxisIndex: 4, data: pairs(corrGauss), symbol: 'none', lineStyle: { color: '#0000ff', width: 2 }, itemStyle: { color: '#0000ff' } },
    { type: 'line', name: 'Steady State', xAxisIndex: 5, yAxisIndex: 5, data: flat(intrSteady), symbol: 'none', lineStyle: { color: '#000', width: 1.2, type: [4, 3] }, itemStyle: { color: '#000' } },
    { type: 'line', name: 'Exact (Moments)', xAxisIndex: 5, yAxisIndex: 5, data: pairs(intrExact), symbol: 'none', lineStyle: { color: '#000', width: 1.5 }, itemStyle: { color: '#000' } },
    { type: 'line', name: 'Gauss Approx', xAxisIndex: 5, yAxisIndex: 5, data: pairs(intrGauss), symbol: 'none', lineStyle: { color: '#0000ff', width: 2 }, itemStyle: { color: '#0000ff' } }
  ]
};

const chart = echarts.init(document.getElementById('c'), null, { renderer: 'canvas' });
chart.setOption(option);
</script>
</body>
</html>
